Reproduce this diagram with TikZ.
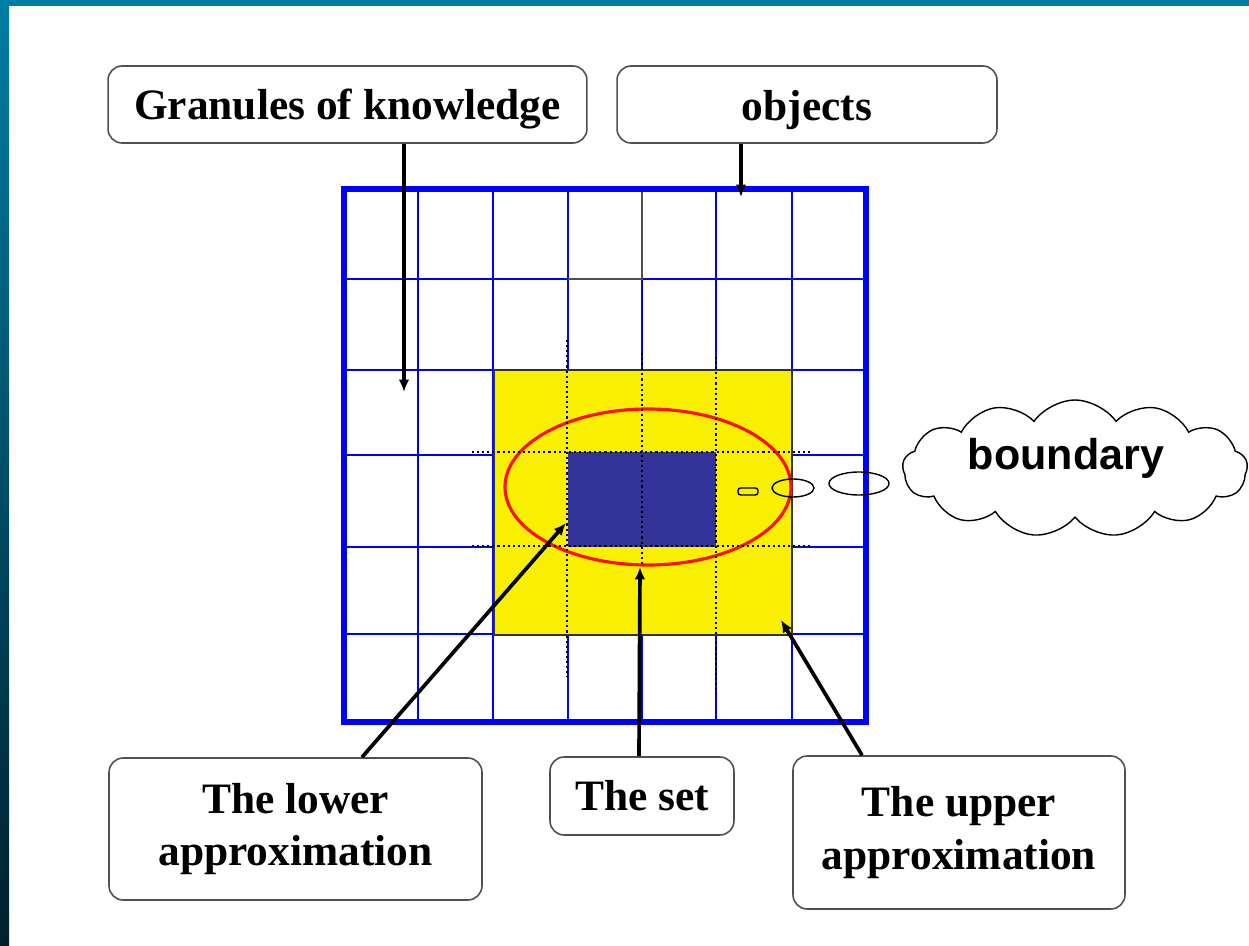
\documentclass[tikz,border=0pt]{standalone}
\usepackage{fontspec}
\setmainfont{Liberation Serif}
\setsansfont{Liberation Sans}
\usetikzlibrary{arrows.meta,shapes.symbols}
\definecolor{stripteal}{HTML}{007DA4}
\definecolor{stripmid}{HTML}{005F7A}
\definecolor{stripdark}{HTML}{00202C}
\definecolor{gridblue}{HTML}{0000FF}
\definecolor{upperyellow}{HTML}{F8F000}
\definecolor{lowerblue}{HTML}{333399}
\definecolor{setred}{HTML}{FF1010}
\definecolor{boxgray}{HTML}{505050}

\tikzset{
  labelbox/.style={draw=boxgray,line width=0.9pt,rounded corners=8pt,fill=white,
    font=\fontsize{24.7}{30}\selectfont\bfseries,align=center,inner sep=0pt},
  pointer/.style={-{Latex[length=7pt,width=6pt]},line width=2.1pt},
  gridline/.style={gridblue,line width=0.8pt},
  dotline/.style={line width=1.3pt,dash pattern=on 1.2pt off 1.7pt},
  bubble/.style={draw,line width=0.8pt},
}

\begin{document}
\begin{tikzpicture}[x=0.02cm,y=-0.02cm]
  \useasboundingbox (0,0) rectangle (1249,946);
  \fill[white] (0,0) rectangle (1249,946);
  % frame of the slide
  \fill[stripteal] (0,0) rectangle (1249,6);
  \shade[top color=stripteal,middle color=stripmid,bottom color=stripdark] (0,0) rectangle (9,946);

  % universe of objects
  \foreach \gx in {418,493,568,642,716,792}
    \draw[gridline] (\gx,189) -- (\gx,722);
  \foreach \gy in {279,370,455,547,634}
    \draw[gridline] (344,\gy) -- (866,\gy);
  \draw[boxgray,line width=0.8pt] (568,279) -- (642,279) -- (642,189);

  % upper and lower approximation
  \draw[fill=upperyellow,draw=black!80,line width=0.6pt] (494,370) rectangle (792,635);
  \fill[lowerblue] (568,452) rectangle (716,547);
  \draw[setred,line width=1.8pt] (648,487) ellipse [x radius=143,y radius=78];
  \foreach \gy in {452,546}
    \draw[dotline] (472,\gy) -- (810,\gy);
  \draw[dotline] (567,340) -- (567,677);
  \draw[dotline] (642,353) -- (642,565);
  \draw[dotline] (716,357) -- (716,694);

  \draw[gridblue,line width=3.4pt] (344,189) rectangle (866,722);

  % thought bubble
  \draw[bubble,rounded corners=1.5pt] (738,488) rectangle (758,495);
  \draw[bubble] (793,488) ellipse [x radius=21,y radius=9];
  \draw[bubble] (859,483.5) ellipse [x radius=30,y radius=11.5];
  \node[cloud,cloud puffs=13,cloud puff arc=110,cloud ignores aspect,draw,fill=white,
    line width=0.8pt,minimum width=6.9cm,minimum height=2.74cm] (bnd) at (1075,468.5) {};
  \node[font=\sffamily\bfseries\fontsize{24.5}{29}\selectfont] (bndtxt) at (1066,458) {boundary};

  % labels
  \node[labelbox,text height=23pt,minimum width=9.58cm,minimum height=1.54cm] (gran) at (347.5,104.5) {Granules of knowledge};
  \node[labelbox,text height=23pt,minimum width=7.6cm,minimum height=1.54cm] (obj) at (807,104.5) {objects};
  \node[labelbox,minimum width=7.46cm,minimum height=2.84cm] (lower) at (295.5,829) {The lower\\approximation};
  \node[labelbox,minimum width=3.68cm,minimum height=1.56cm] (set) at (642,796) {The set};
  \node[labelbox,minimum width=6.64cm,minimum height=3.06cm] (upper) at (959,832.5) {The upper\\approximation};

  \coordinate (granend) at (404,392);
  \coordinate (objend) at (741,197);
  \coordinate (lowend) at (566,523);
  \coordinate (setend) at (640,567);
  \coordinate (upend) at (781,620);

  \draw[pointer] (granend |- gran.south) -- (granend);
  \draw[pointer] (objend |- obj.south) -- (objend);
  \draw[pointer] ([xshift=1.33cm]lower.north) -- (lowend);
  \draw[pointer] ([xshift=-0.06cm]set.north) -- (setend);
  \draw[pointer] ([xshift=-1.94cm]upper.north) -- (upend);
\end{tikzpicture}
\end{document}
